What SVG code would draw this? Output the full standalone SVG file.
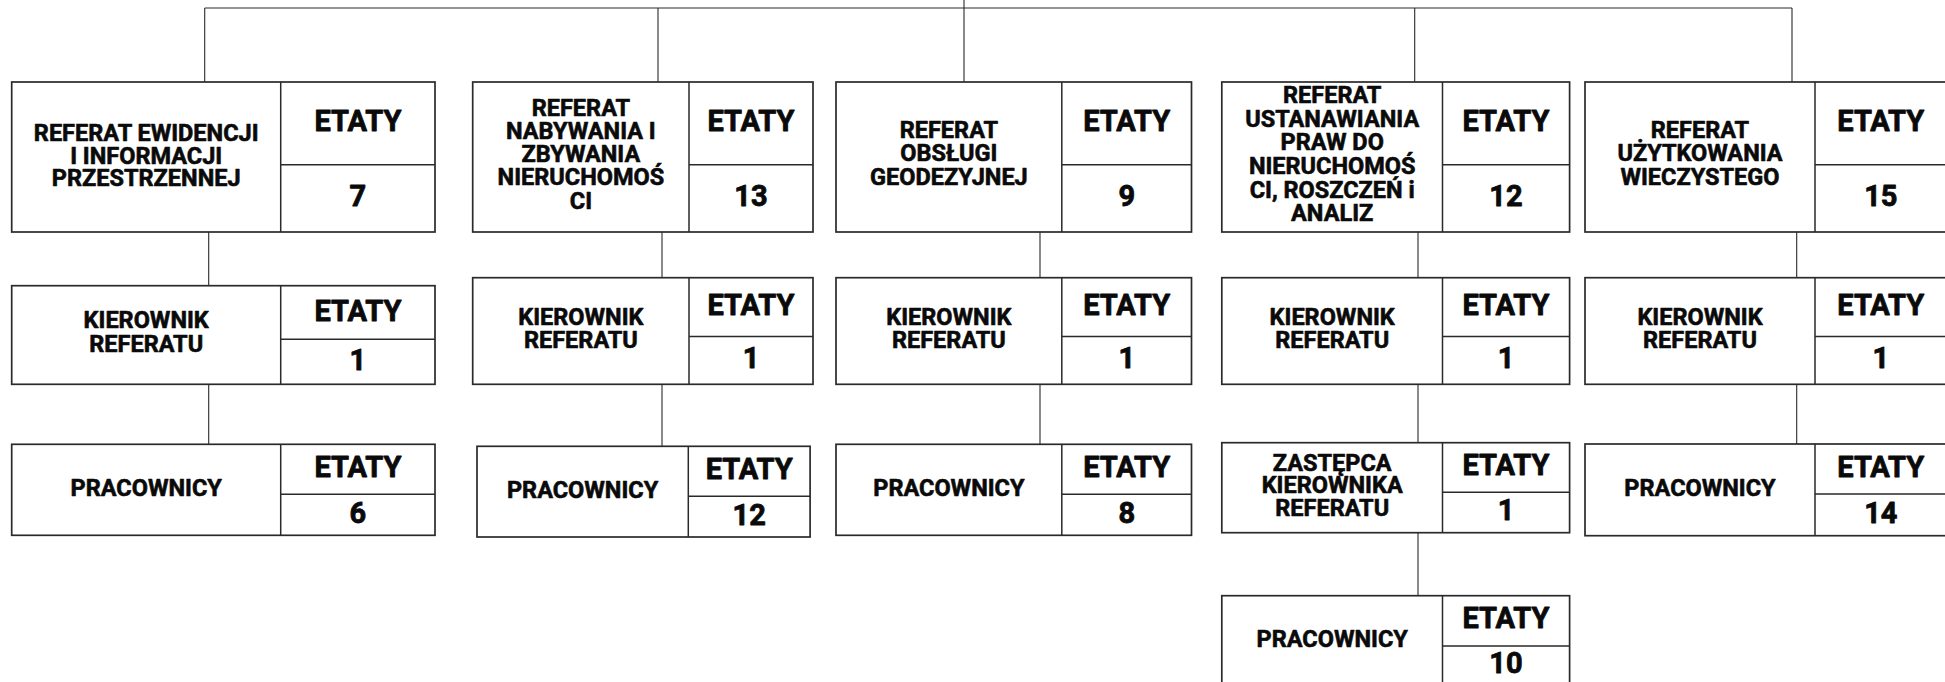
<svg xmlns="http://www.w3.org/2000/svg" width="1945" height="682" viewBox="0 0 1945 682">
<style>
.b{fill:#fff;stroke:#2a2a2a;stroke-width:1.7}
.d{fill:none;stroke:#2a2a2a;stroke-width:1.5}
.c{fill:none;stroke:#2a2a2a;stroke-width:1.1}
text{font-family:Roboto,"Liberation Sans",Arial,sans-serif;font-weight:700;fill:#0a0a0a;stroke:#0a0a0a;text-anchor:middle;stroke-linejoin:round}
.l{font-size:23.5px;stroke-width:0.6}
.n{font-size:29px;stroke-width:0.8}
</style>
<rect width="1945" height="682" fill="#fff"/>
<g id="connectors">
<path class="c" d="M204.7,8H1792M964,0V82M204.7,8V82M658,8V82M1414.7,8V82M1792,8V82"/>
<path class="c" d="M208.7,232V285.7M208.7,384.3V444.3"/>
<path class="c" d="M662,232V277.7M662,384.3V446.3"/>
<path class="c" d="M1040,232V277.7M1040,384.3V444.3"/>
<path class="c" d="M1418,232V277.7M1418,384.3V442.7M1418,532.7V595.7"/>
<path class="c" d="M1796.7,232V277.7M1796.7,384.3V444"/>
</g>
<g id="ref1">
<rect class="b" x="11.7" y="82" width="423.3" height="150"/>
<path class="d" d="M280.7,82V232M280.7,164.7H435"/>
<text class="l"><tspan x="146.2" y="141.3">REFERAT EWIDENCJI</tspan><tspan x="146.2" y="163.8">I INFORMACJI</tspan><tspan x="146.2" y="186.3">PRZESTRZENNEJ</tspan></text>
<text class="n" x="357.9" y="131.3">ETATY</text>
<text class="n" x="357.9" y="206.3">7</text>
</g>
<g id="ref2">
<rect class="b" x="472.7" y="82" width="340.3" height="150"/>
<path class="d" d="M689,82V232M689,164.7H813"/>
<text class="l"><tspan x="580.9" y="115.5">REFERAT</tspan><tspan x="580.9" y="138.8">NABYWANIA I</tspan><tspan x="580.9" y="162.1">ZBYWANIA</tspan><tspan x="580.9" y="185.4">NIERUCHOMOŚ</tspan><tspan x="580.9" y="208.7">CI</tspan></text>
<text class="n" x="751" y="131.3">ETATY</text>
<text class="n" x="751" y="206.3">13</text>
</g>
<g id="ref3">
<rect class="b" x="836" y="82" width="355.5" height="150"/>
<path class="d" d="M1061.8,82V232M1061.8,164.7H1191.5"/>
<text class="l"><tspan x="948.9" y="138">REFERAT</tspan><tspan x="948.9" y="161.3">OBSŁUGI</tspan><tspan x="948.9" y="184.6">GEODEZYJNEJ</tspan></text>
<text class="n" x="1126.7" y="131.3">ETATY</text>
<text class="n" x="1126.7" y="206.3">9</text>
</g>
<g id="ref4">
<rect class="b" x="1221.8" y="82" width="347.8" height="150"/>
<path class="d" d="M1442.5,82V232M1442.5,164.7H1569.6"/>
<text class="l"><tspan x="1332.2" y="103.2">REFERAT</tspan><tspan x="1332.2" y="126.8">USTANAWIANIA</tspan><tspan x="1332.2" y="150.4">PRAW DO</tspan><tspan x="1332.2" y="174">NIERUCHOMOŚ</tspan><tspan x="1332.2" y="197.6">CI, ROSZCZEŃ i</tspan><tspan x="1332.2" y="221.2">ANALIZ</tspan></text>
<text class="n" x="1506" y="131.3">ETATY</text>
<text class="n" x="1506" y="206.3">12</text>
</g>
<g id="ref5">
<rect class="b" x="1585" y="82" width="362" height="150"/>
<path class="d" d="M1815,82V232M1815,164.7H1947"/>
<text class="l"><tspan x="1700" y="138">REFERAT</tspan><tspan x="1700" y="161.3">UŻYTKOWANIA</tspan><tspan x="1700" y="184.6">WIECZYSTEGO</tspan></text>
<text class="n" x="1880.8" y="131.3">ETATY</text>
<text class="n" x="1880.8" y="206.3">15</text>
</g>
<g id="kier1">
<rect class="b" x="11.7" y="285.7" width="423.3" height="98.6"/>
<path class="d" d="M280.7,285.7V384.3M280.7,339.3H435"/>
<text class="l"><tspan x="146.2" y="328.3">KIEROWNIK</tspan><tspan x="146.2" y="352">REFERATU</tspan></text>
<text class="n" x="357.9" y="320.5">ETATY</text>
<text class="n" x="357.9" y="369.5">1</text>
</g>
<g id="kier2">
<rect class="b" x="472.7" y="277.7" width="340.3" height="106.6"/>
<path class="d" d="M689,277.7V384.3M689,336.5H813"/>
<text class="l"><tspan x="580.9" y="325">KIEROWNIK</tspan><tspan x="580.9" y="348.3">REFERATU</tspan></text>
<text class="n" x="751" y="315.1">ETATY</text>
<text class="n" x="751" y="368.4">1</text>
</g>
<g id="kier3">
<rect class="b" x="836" y="277.7" width="355.5" height="106.6"/>
<path class="d" d="M1061.8,277.7V384.3M1061.8,336.5H1191.5"/>
<text class="l"><tspan x="948.9" y="325">KIEROWNIK</tspan><tspan x="948.9" y="348.3">REFERATU</tspan></text>
<text class="n" x="1126.7" y="315.1">ETATY</text>
<text class="n" x="1126.7" y="368.4">1</text>
</g>
<g id="kier4">
<rect class="b" x="1221.8" y="277.7" width="347.8" height="106.6"/>
<path class="d" d="M1442.5,277.7V384.3M1442.5,336.5H1569.6"/>
<text class="l"><tspan x="1332.2" y="325">KIEROWNIK</tspan><tspan x="1332.2" y="348.3">REFERATU</tspan></text>
<text class="n" x="1506" y="315.1">ETATY</text>
<text class="n" x="1506" y="368.4">1</text>
</g>
<g id="kier5">
<rect class="b" x="1585" y="277.7" width="362" height="106.6"/>
<path class="d" d="M1815,277.7V384.3M1815,336.5H1947"/>
<text class="l"><tspan x="1700" y="325">KIEROWNIK</tspan><tspan x="1700" y="348.3">REFERATU</tspan></text>
<text class="n" x="1880.8" y="315.1">ETATY</text>
<text class="n" x="1880.8" y="368.4">1</text>
</g>
<g id="prac1">
<rect class="b" x="11.7" y="444.3" width="423.3" height="91"/>
<path class="d" d="M280.7,444.3V535.3M280.7,494.3H435"/>
<text class="l" x="146.2" y="496">PRACOWNICY</text>
<text class="n" x="357.9" y="477.3">ETATY</text>
<text class="n" x="357.9" y="522.8">6</text>
</g>
<g id="prac2">
<rect class="b" x="477" y="446.3" width="333.1" height="90.7"/>
<path class="d" d="M688.3,446.3V537M688.3,496.3H810.1"/>
<text class="l" x="582.6" y="498">PRACOWNICY</text>
<text class="n" x="749.2" y="479.3">ETATY</text>
<text class="n" x="749.2" y="524.6">12</text>
</g>
<g id="prac3">
<rect class="b" x="836" y="444.3" width="355.5" height="91"/>
<path class="d" d="M1061.8,444.3V535.3M1061.8,494.3H1191.5"/>
<text class="l" x="948.9" y="496">PRACOWNICY</text>
<text class="n" x="1126.7" y="477.3">ETATY</text>
<text class="n" x="1126.7" y="522.8">8</text>
</g>
<g id="zast4">
<rect class="b" x="1221.8" y="442.7" width="347.8" height="90"/>
<path class="d" d="M1442.5,442.7V532.7M1442.5,492.3H1569.6"/>
<text class="l"><tspan x="1332.2" y="470.5">ZASTĘPCA</tspan><tspan x="1332.2" y="493">KIEROWNIKA</tspan><tspan x="1332.2" y="515.5">REFERATU</tspan></text>
<text class="n" x="1506" y="475">ETATY</text>
<text class="n" x="1506" y="520">1</text>
</g>
<g id="prac4">
<rect class="b" x="1221.8" y="595.7" width="347.8" height="90.3"/>
<path class="d" d="M1442.5,595.7V686M1442.5,646H1569.6"/>
<text class="l" x="1332.2" y="646.5">PRACOWNICY</text>
<text class="n" x="1506" y="628.3">ETATY</text>
<text class="n" x="1506" y="673.3">10</text>
</g>
<g id="prac5">
<rect class="b" x="1585" y="444" width="362" height="91.7"/>
<path class="d" d="M1815,444V535.7M1815,494H1947"/>
<text class="l" x="1700" y="496">PRACOWNICY</text>
<text class="n" x="1880.8" y="477">ETATY</text>
<text class="n" x="1880.8" y="522.8">14</text>
</g>
</svg>
